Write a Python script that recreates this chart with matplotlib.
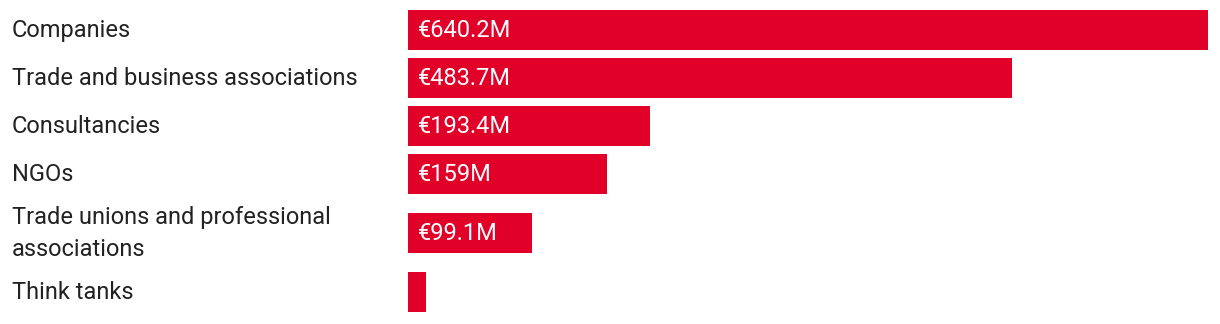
import matplotlib
matplotlib.use('Agg')
import numpy as np
import matplotlib.pyplot as plt
import matplotlib.transforms as mtransforms

categories = ['Companies', 'Trade and business associations', 'Consultancies', 'NGOs',
              'Trade unions and professional\nassociations', 'Think tanks']
spend = [640.2, 483.7, 193.4, 159.0, 99.1, 14.4]
value_labels = ['€640.2M', '€483.7M', '€193.4M', '€159M', '€99.1M', '']

plt.rcParams['font.family'] = ['Roboto', 'DejaVu Sans']
red = '#e00028'

# row heights in pixels: taller rows for two-line labels
rows = np.array([48 + 22 * c.count('\n') for c in categories])
centers = 5.5 + np.cumsum(rows) - rows / 2

fig = plt.figure(figsize=(12.2, 3.24), dpi=100)
ax = fig.add_axes([408 / 1220, 0, 800 / 1220, 1])
ax.barh(centers, spend, height=40, color=red)
ax.set_xlim(0, max(spend))
ax.set_ylim(324, 0)
ax.axis('off')

trans = mtransforms.blended_transform_factory(fig.transFigure, ax.transData)
for y, cat, lab in zip(centers, categories, value_labels):
    ax.text(12 / 1220, y + 1, cat, transform=trans, ha='left', va='center',
            fontsize=17, color='#222222', linespacing=1.45, clip_on=False)
    if lab:
        ax.annotate(lab, (0, y), xytext=(10, -1), textcoords='offset pixels',
                    ha='left', va='center', fontsize=17, color='white')

fig.savefig('out.png', dpi=100)
